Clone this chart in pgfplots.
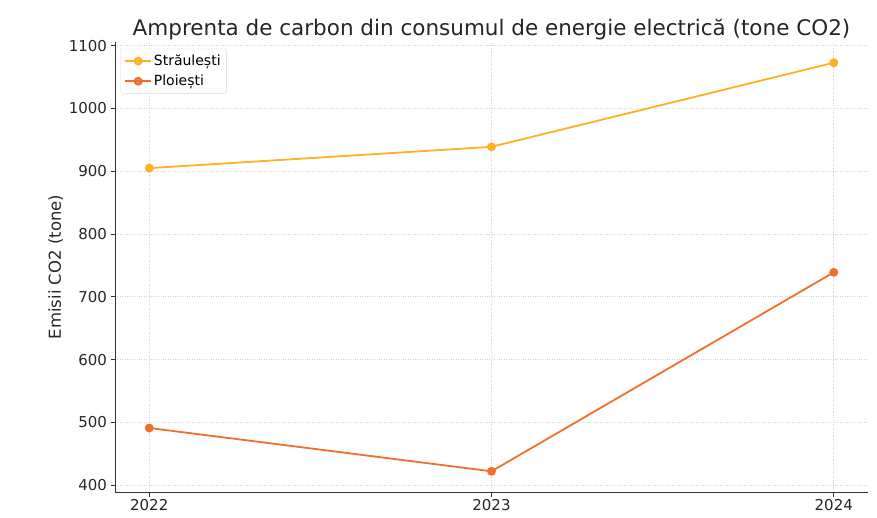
\documentclass[border=0pt]{standalone}
\usepackage{pgfplots}
\pgfplotsset{compat=1.18}
\usepackage{fontspec}
\setmainfont{DejaVu Sans}
\definecolor{cS}{RGB}{255,176,32}
\definecolor{cP}{RGB}{243,110,44}
\begin{document}
\begin{tikzpicture}[x=1pt,y=1pt]
\path (-115,-25) rectangle (762,492);
\begin{axis}[
  at={(0,0)}, anchor=south west,
  scale only axis, width=753pt, height=450pt,
  xmin=2021.9, xmax=2024.1, ymin=389, ymax=1106,
  xtick={2022,2023,2024},
  xticklabels={2022,2023,2024},
  ytick={400,500,...,1100},
  axis x line*=bottom, axis y line*=left,
  axis line style={black!80, line width=1pt},
  tick style={black!80, line width=0.9pt},
  tick align=outside, major tick length=4.5pt,
  grid=major,
  major grid style={gray!35, dotted, line width=0.7pt},
  tick label style={font=\fontsize{15}{17}\selectfont, text=black!85},
  xticklabel style={yshift=1pt},
  /pgf/number format/assume math mode=true,
  /pgf/number format/1000 sep={},
  title={Amprenta de carbon din consumul de energie electrică (tone CO2)},
  title style={font=\fontsize{21.5}{24}\selectfont, text=black!85, yshift=-8pt},
  ylabel={Emisii CO2 (tone)},
  ylabel style={font=\fontsize{16.5}{18}\selectfont, text=black!85, yshift=-1pt},
  legend style={at={(rel axis cs:0.007,0.985)}, anchor=north west,
    font=\fontsize{14}{16}\selectfont, draw=gray!30, rounded corners=2pt,
    fill=white, fill opacity=0.8, text opacity=1, row sep=4pt,
    inner xsep=4pt, inner ysep=4pt},
  legend image code/.code={\draw[mark repeat=2,mark phase=2,line width=1.8pt] plot coordinates {(0cm,0cm) (0.45cm,0cm) (0.9cm,0cm)};},
  legend cell align=left,
]
\addplot[color=cS, line width=1.8pt, mark=*, mark size=3.5pt] coordinates {(2022,905) (2023,939) (2024,1073)};
\addlegendentry{Străulești}
\addplot[color=cP, line width=1.8pt, mark=*, mark size=3.5pt] coordinates {(2022,491) (2023,422) (2024,739)};
\addlegendentry{Ploiești}
\end{axis}
\end{tikzpicture}
\end{document}
